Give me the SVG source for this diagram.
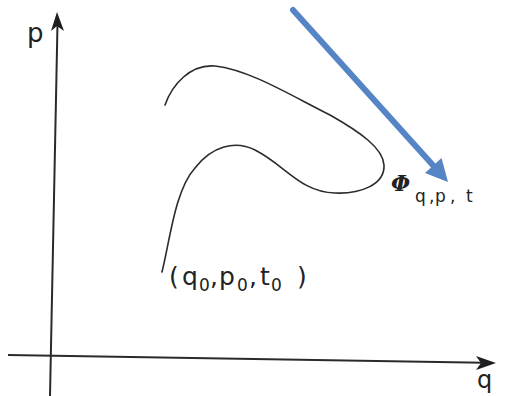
<svg xmlns="http://www.w3.org/2000/svg" width="508" height="396" viewBox="0 0 508 396">
<style>
.axis{stroke:#2a2a2a;stroke-width:2;fill:none}
.head{fill:#1e1e1e}
.curve{stroke:#2b2b2b;stroke-width:1.6;fill:none;stroke-linecap:round}
.lbl{font-family:"DejaVu Sans","Liberation Sans",sans-serif;fill:#222}
.sub{font-size:17px}
</style>
<rect width="508" height="396" fill="#ffffff"/>
<g id="axes">
<line class="axis" x1="50" y1="396" x2="57.5" y2="24"/>
<polygon class="head" points="57,12 64,31 57,26 51,31"/>
<line class="axis" x1="8" y1="355" x2="484" y2="362.8"/>
<polygon class="head" points="496,363 476,370 481,363 476,356"/>
</g>
<g id="curve">
<path class="curve" d="M162,272 C170,240 175,190 195,168 C212,146 235,140 255,150 C285,165 300,192 335,193 C360,194 385,185 384,165 C383,148 360,132 330,115 C290,95 250,70 215,66 C190,64 172,85 165,105"/>
</g>
<g id="flow-arrow">
<line x1="293" y1="10" x2="435" y2="167.5" stroke="#5585c5" stroke-width="6" stroke-linecap="round"/>
<polygon points="448,182 425,173 441.5,158" fill="#5585c5"/>
</g>
<g id="labels">
<text class="lbl" x="27" y="42" font-size="26">p</text>
<text class="lbl" x="477" y="388" font-size="24">q</text>
<text class="lbl" font-size="25"><tspan x="169" y="285">(</tspan><tspan x="182" y="285">q</tspan><tspan class="sub" x="199" y="291">0</tspan><tspan x="210" y="285">,</tspan><tspan x="219" y="285">p</tspan><tspan class="sub" x="237" y="291">0</tspan><tspan x="249" y="285">,</tspan><tspan x="260" y="285">t</tspan><tspan class="sub" x="271" y="291">0</tspan><tspan x="297" y="285">)</tspan></text>
<text x="391" y="191" font-size="22" font-family="'DejaVu Serif','Liberation Serif',serif" font-style="italic" font-weight="bold" fill="#222">Φ</text>
<text class="lbl sub"><tspan x="415" y="202">q</tspan><tspan x="429" y="202">,</tspan><tspan x="435" y="202">p</tspan><tspan x="450" y="202">,</tspan><tspan x="466" y="202">t</tspan></text>
</g>
</svg>
